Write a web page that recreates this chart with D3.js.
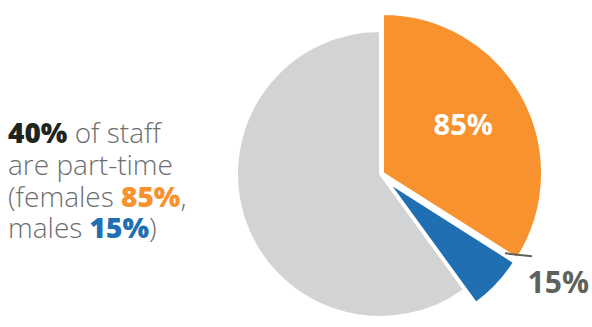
<!DOCTYPE html>
<html><head><meta charset="utf-8">
<script src="https://cdn.jsdelivr.net/npm/d3@7"></script>
<style>body{margin:0;background:#fff}svg{display:block}</style>
</head><body>
<svg id="chart" width="592" height="327"></svg>
<script>
// data
const categories = ["Part-time females", "Part-time males", "Full-time"];
const shares = [34, 6, 60];            // % of all staff (40% part-time: 85% F / 15% M)
const sliceLabels = ["85%", "15%", ""];
const headline = { total: "40%", female: "85%", male: "15%" };

const colors = ["#f7922f", "#1f6fb2", "#d1d3d5"];
const radii = [159, 148, 143];
const offsets = [[3, -1], [9, 9], [0, 0]];
const cx = 380, cy = 174;
const tf = "'Open Sans', Lato, sans-serif";

const svg = d3.select("#chart");
const pie = d3.pie().sort(null).value(d => d)(shares);

const g = svg.append("g").attr("transform", `translate(${cx},${cy})`);
const slices = g.selectAll("g.slice").data(pie).join("g")
  .attr("class", "slice")
  .attr("transform", (d, i) => `translate(${offsets[i][0]},${offsets[i][1]})`);
slices.append("path")
  .attr("d", (d, i) => d3.arc().innerRadius(0).outerRadius(radii[i])(d))
  .attr("fill", (d, i) => colors[i])
  .attr("stroke", "#fff").attr("stroke-width", 2).attr("stroke-linejoin", "miter");

// 85% label inside orange
const lab0 = d3.arc().innerRadius(95).outerRadius(95).centroid(pie[0]);
g.append("text")
  .attr("x", offsets[0][0] + lab0[0] - 3).attr("y", offsets[0][1] + lab0[1] + 8)
  .attr("text-anchor", "middle")
  .attr("font-family", tf).attr("font-weight", 700)
  .attr("font-size", 29).attr("fill", "#fff")
  .text(sliceLabels[0]);

// leader + 15% label for blue
const ang = pie[1].startAngle;
const r1 = radii[1];
const x1 = offsets[1][0] + Math.sin(ang) * r1, y1 = offsets[1][1] - Math.cos(ang) * r1;
g.append("line")
  .attr("x1", x1 - 9).attr("y1", y1 - 9).attr("x2", x1 + 18).attr("y2", y1 - 6)
  .attr("stroke", "#5d625c").attr("stroke-width", 2);
g.append("text")
  .attr("x", x1 + 75).attr("y", y1 + 31)
  .attr("text-anchor", "end")
  .attr("font-family", tf).attr("font-weight", 700)
  .attr("font-size", 30).attr("fill", "#5d625c")
  .text(sliceLabels[1]);

// left text
const t = svg.append("text").attr("font-family", tf).attr("font-size", 28).attr("fill", "#6d6e70");
const line1 = t.append("tspan").attr("x", 8).attr("y", 143);
line1.append("tspan").attr("font-weight", 800).attr("fill", "#1e2520").text(headline.total);
line1.append("tspan").attr("font-weight", 300).text(" of staff");
t.append("tspan").attr("x", 8).attr("y", 175).attr("font-weight", 300).text("are part-time");
const line3 = t.append("tspan").attr("x", 8).attr("y", 207).attr("font-weight", 300);
line3.append("tspan").text("(females ");
line3.append("tspan").attr("font-weight", 800).attr("fill", colors[0]).text(headline.female);
line3.append("tspan").text(",");
const line4 = t.append("tspan").attr("x", 8).attr("y", 238).attr("font-weight", 300);
line4.append("tspan").text("males ");
line4.append("tspan").attr("font-weight", 800).attr("fill", colors[1]).text(headline.male);
line4.append("tspan").text(")");
</script>
</body></html>
